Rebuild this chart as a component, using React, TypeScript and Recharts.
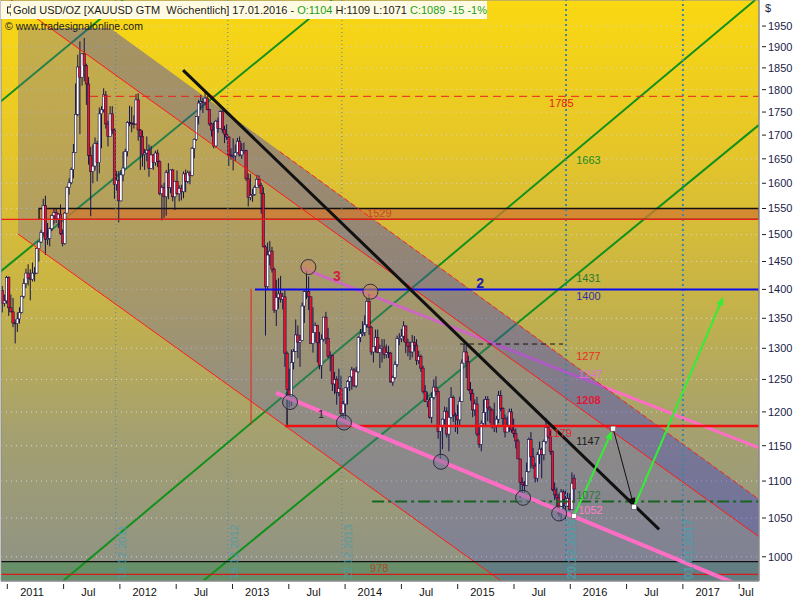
import React from "react";
import {
  ComposedChart,
  Bar,
  Area,
  XAxis,
  YAxis,
  CartesianGrid,
  ReferenceLine,
  ReferenceArea,
  ReferenceDot,
} from "recharts";

const FONT = '"Liberation Sans", Arial, sans-serif';

// weekly bars, [open, high, low, close]; first bar is the week ending 17.12.2010
const FIRST_WEEK = 2010.955;
const WEEK = 7 / 365.25;

const ohlc2010 = [
  [1398, 1406, 1360, 1376], [1376, 1391, 1370, 1380], [1380, 1424, 1375, 1421],
];
const ohlc2011 = [
  [1421, 1423, 1354, 1368], [1368, 1391, 1360, 1361], [1361, 1385, 1335, 1342], [1342, 1348, 1308, 1341],
  [1341, 1360, 1327, 1349], [1349, 1369, 1341, 1360], [1360, 1389, 1358, 1388], [1388, 1419, 1384, 1410],
  [1410, 1437, 1402, 1429], [1429, 1445, 1407, 1420], [1420, 1436, 1381, 1418], [1418, 1448, 1414, 1429],
  [1429, 1440, 1414, 1429], [1429, 1476, 1428, 1474], [1474, 1487, 1450, 1486], [1486, 1509, 1484, 1504],
  [1504, 1569, 1498, 1556], [1556, 1575, 1462, 1491], [1491, 1522, 1481, 1493], [1493, 1513, 1478, 1511],
  [1511, 1538, 1507, 1536], [1536, 1550, 1519, 1542], [1542, 1550, 1522, 1530], [1530, 1541, 1512, 1539],
  [1539, 1558, 1499, 1502], [1502, 1510, 1478, 1483], [1483, 1543, 1481, 1541], [1541, 1594, 1541, 1592],
  [1592, 1610, 1577, 1601], [1601, 1632, 1598, 1628], [1628, 1681, 1610, 1663], [1663, 1814, 1662, 1745],
  [1745, 1881, 1741, 1852], [1852, 1913, 1702, 1828], [1828, 1885, 1809, 1883], [1883, 1921, 1819, 1856],
  [1856, 1860, 1766, 1813], [1813, 1829, 1638, 1657], [1657, 1675, 1535, 1624], [1624, 1680, 1600, 1635],
  [1635, 1695, 1626, 1682], [1682, 1688, 1604, 1642], [1642, 1760, 1620, 1746], [1746, 1763, 1672, 1755],
  [1755, 1803, 1749, 1788], [1788, 1797, 1714, 1724], [1724, 1731, 1676, 1697], [1697, 1763, 1697, 1746],
  [1746, 1763, 1702, 1711], [1711, 1714, 1569, 1598], [1598, 1625, 1585, 1606], [1606, 1625, 1523, 1565],
];
const ohlc2012 = [
  [1565, 1627, 1564, 1617], [1617, 1665, 1604, 1631], [1631, 1671, 1631, 1665], [1665, 1730, 1655, 1727],
  [1727, 1764, 1719, 1726], [1726, 1762, 1706, 1725], [1725, 1743, 1714, 1724], [1724, 1790, 1722, 1777],
  [1777, 1792, 1688, 1711], [1711, 1713, 1627, 1697], [1697, 1710, 1634, 1659], [1659, 1671, 1627, 1662],
  [1662, 1697, 1645, 1668], [1668, 1680, 1613, 1630], [1630, 1677, 1629, 1658], [1658, 1660, 1627, 1642],
  [1642, 1667, 1636, 1662], [1662, 1669, 1633, 1644], [1644, 1647, 1576, 1579], [1579, 1597, 1527, 1591],
  [1591, 1601, 1532, 1573], [1573, 1627, 1536, 1622], [1622, 1641, 1568, 1591], [1591, 1628, 1580, 1627],
  [1627, 1629, 1564, 1573], [1573, 1605, 1547, 1604], [1604, 1626, 1577, 1579], [1579, 1596, 1564, 1590],
  [1590, 1597, 1566, 1583], [1583, 1624, 1570, 1619], [1619, 1628, 1582, 1604], [1604, 1626, 1600, 1621],
  [1621, 1625, 1598, 1616], [1616, 1675, 1614, 1672], [1672, 1693, 1651, 1691], [1691, 1741, 1688, 1740],
  [1740, 1777, 1723, 1770], [1770, 1788, 1754, 1773], [1773, 1781, 1748, 1772], [1772, 1796, 1766, 1781],
  [1781, 1786, 1754, 1756], [1756, 1757, 1720, 1724], [1724, 1727, 1697, 1711], [1711, 1728, 1672, 1677],
  [1677, 1733, 1673, 1730], [1730, 1738, 1705, 1714], [1714, 1754, 1713, 1751], [1751, 1754, 1705, 1712],
  [1712, 1720, 1683, 1702], [1702, 1723, 1690, 1696], [1696, 1698, 1635, 1658], [1658, 1672, 1648, 1656],
];
const ohlc2013 = [
  [1656, 1693, 1626, 1656], [1656, 1680, 1645, 1663], [1663, 1694, 1661, 1687], [1687, 1697, 1655, 1658],
  [1658, 1683, 1650, 1667], [1667, 1684, 1660, 1667], [1667, 1669, 1605, 1609], [1609, 1620, 1554, 1572],
  [1572, 1619, 1566, 1576], [1576, 1589, 1563, 1578], [1578, 1596, 1575, 1592], [1592, 1617, 1593, 1608],
  [1608, 1616, 1590, 1596], [1596, 1601, 1540, 1580], [1580, 1592, 1476, 1477], [1477, 1480, 1321, 1405],
  [1405, 1485, 1400, 1462], [1462, 1488, 1443, 1469], [1469, 1477, 1430, 1436], [1436, 1439, 1359, 1364],
  [1364, 1417, 1337, 1386], [1386, 1420, 1366, 1392], [1392, 1424, 1377, 1383], [1383, 1394, 1365, 1387],
  [1387, 1398, 1270, 1292], [1292, 1295, 1180, 1234], [1234, 1267, 1207, 1223], [1223, 1298, 1209, 1277],
  [1277, 1299, 1266, 1295], [1295, 1348, 1294, 1322], [1322, 1338, 1284, 1310], [1310, 1322, 1270, 1313],
  [1313, 1377, 1312, 1371], [1371, 1400, 1342, 1396], [1396, 1433, 1383, 1396], [1396, 1423, 1364, 1387],
  [1387, 1387, 1307, 1308], [1308, 1369, 1293, 1326], [1326, 1343, 1310, 1338], [1338, 1339, 1277, 1309],
  [1309, 1327, 1266, 1272], [1272, 1323, 1251, 1315], [1315, 1352, 1311, 1352], [1352, 1361, 1307, 1316],
  [1316, 1334, 1284, 1287], [1287, 1295, 1263, 1288], [1288, 1290, 1232, 1243], [1243, 1262, 1227, 1250],
  [1250, 1255, 1211, 1230], [1230, 1267, 1224, 1236], [1236, 1256, 1185, 1198], [1198, 1217, 1190, 1212],
];
const ohlc2014 = [
  [1212, 1238, 1182, 1237], [1237, 1249, 1211, 1247], [1247, 1255, 1232, 1254], [1254, 1270, 1234, 1265],
  [1265, 1268, 1238, 1240], [1240, 1270, 1237, 1262], [1262, 1320, 1261, 1318], [1318, 1332, 1310, 1324],
  [1324, 1345, 1320, 1326], [1326, 1355, 1320, 1339], [1339, 1385, 1334, 1379], [1379, 1392, 1322, 1335],
  [1335, 1337, 1289, 1294], [1294, 1300, 1277, 1303], [1303, 1331, 1293, 1318], [1318, 1331, 1292, 1293],
  [1293, 1306, 1268, 1300], [1300, 1315, 1277, 1302], [1302, 1315, 1283, 1290], [1290, 1306, 1284, 1293],
  [1293, 1304, 1284, 1292], [1292, 1294, 1245, 1246], [1246, 1256, 1240, 1253], [1253, 1279, 1250, 1274],
  [1274, 1321, 1270, 1316], [1316, 1325, 1305, 1316], [1316, 1332, 1310, 1320], [1320, 1345, 1311, 1337],
  [1337, 1338, 1292, 1310], [1310, 1316, 1287, 1303], [1303, 1311, 1281, 1294], [1294, 1322, 1285, 1310],
  [1310, 1320, 1295, 1305], [1305, 1315, 1273, 1280], [1280, 1296, 1275, 1287], [1287, 1290, 1262, 1268],
  [1268, 1272, 1228, 1231], [1231, 1241, 1215, 1216], [1216, 1231, 1207, 1218], [1218, 1222, 1190, 1192],
  [1192, 1230, 1183, 1222], [1222, 1250, 1219, 1238], [1238, 1255, 1225, 1231], [1231, 1234, 1160, 1171],
  [1171, 1178, 1131, 1178], [1178, 1190, 1145, 1189], [1189, 1208, 1181, 1201], [1201, 1207, 1162, 1167],
  [1167, 1221, 1142, 1192], [1192, 1238, 1190, 1222], [1222, 1225, 1185, 1195], [1195, 1199, 1170, 1195],
];
const ohlc2015 = [
  [1195, 1211, 1167, 1188], [1188, 1223, 1179, 1216], [1216, 1282, 1215, 1276], [1276, 1307, 1276, 1294],
  [1294, 1305, 1252, 1278], [1278, 1288, 1232, 1234], [1234, 1246, 1217, 1228], [1228, 1235, 1192, 1203],
  [1203, 1219, 1194, 1212], [1212, 1223, 1164, 1167], [1167, 1177, 1147, 1152], [1152, 1187, 1142, 1183],
  [1183, 1219, 1181, 1199], [1199, 1224, 1178, 1219], [1219, 1224, 1186, 1206], [1206, 1209, 1183, 1203],
  [1203, 1205, 1175, 1178], [1178, 1214, 1170, 1178], [1178, 1194, 1169, 1189], [1189, 1232, 1183, 1225],
  [1225, 1233, 1201, 1205], [1205, 1207, 1180, 1190], [1190, 1196, 1162, 1170], [1170, 1193, 1170, 1180],
  [1180, 1205, 1170, 1200], [1200, 1205, 1169, 1173], [1173, 1190, 1162, 1168], [1168, 1175, 1146, 1157],
  [1157, 1160, 1131, 1131], [1131, 1131, 1077, 1098], [1098, 1105, 1080, 1095], [1095, 1100, 1084, 1094],
  [1094, 1126, 1093, 1113], [1113, 1162, 1112, 1159], [1159, 1170, 1118, 1134], [1134, 1147, 1117, 1121],
  [1121, 1125, 1098, 1104], [1104, 1141, 1099, 1137], [1137, 1156, 1124, 1145], [1145, 1147, 1104, 1137],
  [1137, 1159, 1129, 1156], [1156, 1191, 1153, 1177], [1177, 1179, 1160, 1163], [1163, 1173, 1137, 1142],
  [1142, 1143, 1086, 1088], [1088, 1098, 1074, 1081], [1081, 1091, 1062, 1077], [1077, 1083, 1052, 1056],
  [1056, 1089, 1046, 1085], [1085, 1088, 1062, 1075], [1075, 1088, 1047, 1066], [1066, 1084, 1065, 1076],
];
const ohlc2016 = [
  [1076, 1083, 1060, 1061], [1061, 1112, 1061, 1097], [1104, 1109, 1071, 1089],
];

const candles = [...ohlc2010, ...ohlc2011, ...ohlc2012, ...ohlc2013, ...ohlc2014, ...ohlc2015, ...ohlc2016].map(
  ([open, high, low, close], i) => ({ t: FIRST_WEEK + i * WEEK, open, high, low, close, range: [low, high] })
);

const X_DOMAIN = [2010.944, 2017.676];
const Y_DOMAIN = [970, 2015];
const Y_TICKS = [1000, 1050, 1100, 1150, 1200, 1250, 1300, 1350, 1400, 1450, 1500, 1550, 1600, 1650, 1700, 1750, 1800, 1850, 1900, 1950];
const X_BOUNDS = [2011, 2011.5, 2012, 2012.5, 2013, 2013.5, 2014, 2014.5, 2015, 2015.5, 2016, 2016.5, 2017, 2017.5];
const X_LABEL_POS = [2011.22, 2011.72, 2012.22, 2012.72, 2013.22, 2013.72, 2014.22, 2014.72, 2015.22, 2015.72, 2016.22, 2016.72, 2017.22, 2017.566];
const X_LABELS = ["2011", "Jul", "2012", "Jul", "2013", "Jul", "2014", "Jul", "2015", "Jul", "2016", "Jul", "2017", "Jul"];

// drawn lines, in (year, price)
const TREND_BLACK = [{ x: 2012.561, y: 1845 }, { x: 2016.789, y: 1035 }];
const CHANNEL_TOP = [{ x: 2013.42, y: 1665 }, { x: 2017.676, y: 1075 }];
const CHANNEL_MID = [{ x: 2011.033, y: 2015 }, { x: 2017.676, y: 1025.5 }];
const CHANNEL_LOW = [{ x: 2011.095, y: 1501 }, { x: 2015.386, y: 970 }];
const PINK_HIGH = [{ x: 2013.618, y: 1438 }, { x: 2017.676, y: 1147 }];
const PINK_LOW = [{ x: 2013.387, y: 1229 }, { x: 2017.447, y: 968 }];
const GREEN_LINES = [
  [{ x: 2010.935, y: 1772 }, { x: 2012.028, y: 2015 }],
  [{ x: 2010.935, y: 1431 }, { x: 2013.884, y: 2015 }],
  [{ x: 2011.495, y: 970 }, { x: 2017.642, y: 2015 }],
  [{ x: 2012.738, y: 970 }, { x: 2017.676, y: 1722 }],
];
// whole channel (top edge down to the lower red line)
const CHANNEL_FILL = [
  { t: 2011.095, band: [1501, 1945] },
  { t: 2011.912, band: [1382, 1945] },
  { t: 2015.386, band: [970, 1361] },
  { t: 2017.676, band: [970, 1075] },
];
// upper band (top edge down to the middle red line)
const UPPER_FILL = [
  { t: 2011.38, band: [1945, 1945] },
  { t: 2011.912, band: [1842, 1945] },
  { t: 2017.676, band: [1025.5, 1075] },
];
const H_LINES = [
  { y: 1785, from: 2011.735, to: 2017.676, color: "#e82020", width: 1, dash: "8 5" },
  { y: 1307, from: 2015.021, to: 2015.936, color: "#111111", width: 1, dash: "5 4" },
  { y: 1400, from: 2013.2, to: 2017.676, color: "#0a0af0", width: 2, dash: undefined },
  { y: 1179, from: 2013.467, to: 2017.676, color: "#f01010", width: 2.5, dash: undefined },
  { y: 1072, from: 2014.24, to: 2017.676, color: "#17651f", width: 2, dash: "12 4 3 4" },
  { y: 1529, from: 2010.944, to: 2017.676, color: "#f01a1a", width: 1.3, dash: undefined },
  { y: 994, from: 2010.944, to: 2017.676, color: "#111111", width: 1.3, dash: undefined },
  { y: 978, from: 2010.944, to: 2017.676, color: "#d81a1a", width: 1.3, dash: undefined },
];
const V_MARKS = [
  { x: 2013.165, y1: 1401, y2: 1181, color: "#e82020" },
  { x: 2013.485, y1: 1229, y2: 1181, color: "#222222" },
];
const CYCLE_DATES = [
  { x: 2011.963, label: "18.12.2011", strong: false },
  { x: 2012.958, label: "16.12.2012", strong: false },
  { x: 2013.971, label: "22.12.2013", strong: false },
  { x: 2015.962, label: "20.12.2015", strong: true },
  { x: 2017.0, label: "01.01.2017", strong: true },
];
const ARROWS = [
  { from: { x: 2016.034, y: 1053 }, to: { x: 2016.372, y: 1172 }, color: "#33ee33", width: 2 },
  { from: { x: 2016.381, y: 1175 }, to: { x: 2016.567, y: 1065 }, color: "#111111", width: 1 },
  { from: { x: 2016.567, y: 1065 }, to: { x: 2017.358, y: 1387 }, color: "#33ee33", width: 2 },
];
const PIVOTS = [{ x: 2016.034, y: 1053 }, { x: 2016.381, y: 1175 }, { x: 2016.567, y: 1065 }];
const CIRCLES = [
  { x: 2013.674, y: 1440, warm: true },
  { x: 2014.225, y: 1396, warm: true },
  { x: 2013.511, y: 1215, warm: false },
  { x: 2013.99, y: 1184, warm: false },
  { x: 2014.852, y: 1127, warm: false },
  { x: 2015.581, y: 1077, warm: false },
  { x: 2015.901, y: 1056, warm: false },
];
const LEVEL_LABELS = [
  { x: 2015.812, y: 1770, text: "1785", color: "#e82020", size: 11, bold: false },
  { x: 2016.052, y: 1648, text: "1663", color: "#208a20", size: 11, bold: false },
  { x: 2014.195, y: 1541, text: "1529", color: "#c04a2a", size: 11, bold: false },
  { x: 2016.052, y: 1420, text: "1431", color: "#2a7a2a", size: 11, bold: false },
  { x: 2016.052, y: 1389, text: "1400", color: "#3030a8", size: 11, bold: false },
  { x: 2016.052, y: 1288, text: "1277", color: "#e83020", size: 11, bold: false },
  { x: 2016.07, y: 1259, text: "1247", color: "#e070d8", size: 11, bold: false },
  { x: 2016.052, y: 1218, text: "1208", color: "#e01838", size: 11, bold: true },
  { x: 2015.803, y: 1169, text: "1179", color: "#e82020", size: 11, bold: false },
  { x: 2016.052, y: 1156, text: "1147", color: "#1a1a1a", size: 11, bold: false },
  { x: 2016.052, y: 1081, text: "1072", color: "#2a7a3a", size: 11, bold: false },
  { x: 2016.07, y: 1060, text: "1052", color: "#ff80c8", size: 11, bold: false },
  { x: 2014.222, y: 986, text: "978", color: "#a84a2a", size: 11, bold: false },
  { x: 2013.892, y: 1423, text: "3", color: "#d02040", size: 14, bold: true },
  { x: 2015.164, y: 1412, text: "2", color: "#2020b0", size: 14, bold: true },
  { x: 2013.76, y: 1196, text: "1", color: "#222222", size: 11, bold: false },
];

function Candle(props: any) {
  const { x, y, width, height, payload } = props;
  if (!payload || height == null) return null;
  const { open, high, low, close } = payload;
  const cx = x + width / 2;
  const span = Math.log(high) - Math.log(low) || 1;
  const at = (v: number) => y + (height * (Math.log(high) - Math.log(v))) / span;
  const yo = at(open);
  const yc = at(close);
  const up = close >= open;
  const top = Math.min(yo, yc);
  const bh = Math.max(Math.abs(yc - yo), 0.8);
  return (
    <g>
      <line x1={cx} x2={cx} y1={y} y2={y + height} stroke="#16124a" strokeWidth={1} />
      <rect x={cx - 1.2} y={top} width={2.4} height={bh} fill={up ? "#ffffff" : "#ee1428"} stroke="#16124a" strokeWidth={0.6} />
    </g>
  );
}

function XTick(props: any) {
  const { x, y, payload } = props;
  const v = payload.value;
  if (X_BOUNDS.some((b) => Math.abs(b - v) < 1e-6)) {
    return <line x1={x} x2={x} y1={y + 3} y2={y + 8} stroke="#222" />;
  }
  const i = X_LABEL_POS.findIndex((p) => Math.abs(p - v) < 1e-6);
  return (
    <text x={x} y={y + 11} dy="0.35em" textAnchor="middle" fontSize={11} fill="#111" fontFamily={FONT}>
      {X_LABELS[i]}
    </text>
  );
}

function YTick(props: any) {
  const { x, y, payload } = props;
  return (
    <g>
      <line x1={x + 3} x2={x + 7} y1={y} y2={y} stroke="#222" />
      <text x={x + 9} y={y} dy="0.35em" fontSize={11} fill="#1c1c48" fontFamily={FONT}>
        {payload.value}
      </text>
    </g>
  );
}

const arrowShape = (color: string, w: number) => (p: any) => {
  const x1 = Number(p.x1), y1 = Number(p.y1), x2 = Number(p.x2), y2 = Number(p.y2);
  const a = Math.atan2(y2 - y1, x2 - x1);
  const bx = x2 - 9 * Math.cos(a);
  const by = y2 - 9 * Math.sin(a);
  const s = 3.5;
  const pts = `${x2},${y2} ${bx + s * Math.sin(a)},${by - s * Math.cos(a)} ${bx - s * Math.sin(a)},${by + s * Math.cos(a)}`;
  return (
    <g>
      <line x1={x1} y1={y1} x2={bx} y2={by} stroke={color} strokeWidth={w} />
      <polygon points={pts} fill={color} />
    </g>
  );
};

export default function App() {
  const allX = [...X_BOUNDS, ...X_LABEL_POS].sort((a, b) => a - b);
  return (
    <div style={{ position: "absolute", left: 0, top: 0, width: 800, height: 600, background: "#ffffff", fontFamily: FONT }}>
      <svg width={0} height={0} style={{ position: "absolute" }}>
        <defs>
          <linearGradient id="bgGrad" x1="0" y1="0" x2="0" y2="1">
            <stop offset="0%" stopColor="#fad812" />
            <stop offset="25%" stopColor="#e6c628" />
            <stop offset="50%" stopColor="#c8b446" />
            <stop offset="75%" stopColor="#a4a070" />
            <stop offset="100%" stopColor="#8e9286" />
          </linearGradient>
        </defs>
      </svg>
      <ComposedChart width={800} height={600} data={candles} margin={{ top: 0, right: 0, bottom: 0, left: 1 }}>
        <CartesianGrid vertical={false} fill="url(#bgGrad)" fillOpacity={1} stroke="#d6d6dc" strokeDasharray="1 4" />
        <XAxis
          dataKey="t"
          type="number"
          domain={X_DOMAIN}
          allowDataOverflow
          ticks={allX}
          interval={0}
          tick={<XTick />}
          tickLine={false}
          tickSize={0}
          tickMargin={0}
          height={19}
          axisLine={{ stroke: "#8a8a8a" }}
        />
        <YAxis
          orientation="right"
          type="number"
          scale="log"
          domain={Y_DOMAIN}
          allowDataOverflow
          ticks={Y_TICKS}
          interval={0}
          tick={<YTick />}
          tickLine={false}
          tickSize={0}
          tickMargin={0}
          width={41}
          axisLine={{ stroke: "#8a8a8a" }}
        />

        <ReferenceArea x1={X_DOMAIN[0]} x2={X_DOMAIN[1]} y1={970} y2={994} fill="#2e8a40" fillOpacity={0.4} stroke="none" ifOverflow="hidden" zIndex={100} />

        {GREEN_LINES.map((seg, i) => (
          <ReferenceLine key={"g" + i} segment={seg} stroke="#12901c" strokeWidth={2} ifOverflow="hidden" zIndex={110} />
        ))}
        <ReferenceLine segment={PINK_HIGH} stroke="#ff6ec4" strokeWidth={3} ifOverflow="hidden" zIndex={110} />

        <Area
          data={CHANNEL_FILL}
          dataKey="band"
          type="linear"
          stroke="none"
          fill="#5a5abe"
          fillOpacity={0.3}
          dot={false}
          activeDot={false}
          isAnimationActive={false}
          zIndex={120}
        />
        <Area
          data={UPPER_FILL}
          dataKey="band"
          type="linear"
          stroke="none"
          fill="#2d2dc8"
          fillOpacity={0.2}
          dot={false}
          activeDot={false}
          isAnimationActive={false}
          zIndex={121}
        />
        <ReferenceArea x1={2011.282} x2={X_DOMAIN[1]} y1={1529} y2={1550} fill="#d27a30" fillOpacity={0.75} stroke="#111" strokeWidth={1.3} ifOverflow="hidden" zIndex={125} />

        <Bar dataKey="range" barSize={2} shape={Candle} isAnimationActive={false} zIndex={130} />

        {CYCLE_DATES.map((d) => (
          <ReferenceLine
            key={d.label}
            x={d.x}
            stroke={d.strong ? "#3f86a6" : "#4a86b0"}
            strokeWidth={d.strong ? 2 : 1}
            strokeDasharray={d.strong ? "2 3" : "1 3"}
            ifOverflow="hidden"
            zIndex={135}
          />
        ))}
        <ReferenceLine segment={CHANNEL_TOP} stroke="#ff2020" strokeWidth={1} strokeDasharray="5 3" ifOverflow="hidden" zIndex={140} />
        <ReferenceLine segment={CHANNEL_MID} stroke="#ff1a1a" strokeWidth={1} ifOverflow="hidden" zIndex={140} />
        <ReferenceLine segment={CHANNEL_LOW} stroke="#ff1a1a" strokeWidth={1} ifOverflow="hidden" zIndex={140} />
        {H_LINES.map((h) => (
          <ReferenceLine
            key={"h" + h.y}
            segment={[{ x: h.from, y: h.y }, { x: h.to, y: h.y }]}
            stroke={h.color}
            strokeWidth={h.width}
            strokeDasharray={h.dash}
            ifOverflow="hidden"
            zIndex={140}
          />
        ))}
        {V_MARKS.map((v, i) => (
          <ReferenceLine key={"v" + i} segment={[{ x: v.x, y: v.y1 }, { x: v.x, y: v.y2 }]} stroke={v.color} strokeWidth={1} ifOverflow="hidden" zIndex={140} />
        ))}
        <ReferenceLine segment={PINK_LOW} stroke="#ff6ec4" strokeWidth={4} ifOverflow="hidden" zIndex={141} />
        <ReferenceLine segment={TREND_BLACK} stroke="#111111" strokeWidth={3} ifOverflow="hidden" zIndex={142} />

        {CIRCLES.map((c, i) => (
          <ReferenceDot
            key={"c" + i}
            x={c.x}
            y={c.y}
            r={7.5}
            fill={c.warm ? "#c88a5a" : "#7a7898"}
            fillOpacity={c.warm ? 0.6 : 0.5}
            stroke="#2c2c3c"
            strokeWidth={1}
            zIndex={150}
          />
        ))}
        {ARROWS.map((a, i) => (
          <ReferenceLine key={"a" + i} segment={[a.from, a.to]} stroke={a.color} shape={arrowShape(a.color, a.width)} ifOverflow="visible" zIndex={150} />
        ))}
        {PIVOTS.map((p, i) => (
          <ReferenceDot
            key={"p" + i}
            x={p.x}
            y={p.y}
            r={3}
            zIndex={151}
            shape={(s: any) => <rect x={s.cx - 2.5} y={s.cy - 2.5} width={5} height={5} fill="#ffffff" stroke="#444" strokeWidth={0.5} />}
          />
        ))}

        {LEVEL_LABELS.map((l, i) => (
          <ReferenceDot
            key={"l" + i}
            x={l.x}
            y={l.y}
            r={1}
            zIndex={160}
            shape={(s: any) => (
              <text x={s.cx} y={s.cy} dy="0.35em" fill={l.color} fontSize={l.size} fontWeight={l.bold ? "bold" : "normal"} fontFamily={FONT}>
                {l.text}
              </text>
            )}
          />
        ))}
        {CYCLE_DATES.map((d) => (
          <ReferenceDot
            key={"d" + d.label}
            x={d.x}
            y={972}
            r={1}
            zIndex={160}
            shape={(s: any) => (
              <text
                transform={`translate(${s.cx + 10},${s.cy}) rotate(-90)`}
                fill="#4f9ca6"
                fillOpacity={0.9}
                fontSize={d.strong ? 12 : 11}
                fontWeight={d.strong ? "bold" : "normal"}
                fontFamily={FONT}
              >
                {d.label}
              </text>
            )}
          />
        ))}

        <ReferenceArea x1={X_DOMAIN[0]} x2={X_DOMAIN[1]} y1={Y_DOMAIN[0]} y2={Y_DOMAIN[1]} fill="none" stroke="#8a8a8a" strokeWidth={1} zIndex={170} />
      </ComposedChart>

      <div
        style={{
          position: "absolute",
          left: 1,
          top: 1,
          height: 18,
          width: 486,
          background: "#fffbe2",
          display: "flex",
          alignItems: "center",
          whiteSpace: "pre",
          fontSize: 11,
          color: "#1a1a1a",
        }}
      >
        <svg width={14} height={14} style={{ marginLeft: 3, marginRight: 2 }}>
          <line x1={7} x2={7} y1={1} y2={13} stroke="#222" strokeWidth={1} />
          <rect x={3.5} y={4} width={7} height={6} fill="#fffbe2" stroke="#222" strokeWidth={1} />
        </svg>
        <span>Gold USD/OZ [XAUUSD GTM  Wöchentlich] 17.01.2016 - </span>
        <span style={{ color: "#19a019" }}>O:1104</span>
        <span> H:1109 L:1071 </span>
        <span style={{ color: "#19a019" }}>C:1089 -15 -1%</span>
      </div>
      <div style={{ position: "absolute", left: 5, top: 20, fontSize: 10.5, color: "#1a1a1a", whiteSpace: "pre" }}>
        © www.tradesignalonline.com
      </div>
      <div style={{ position: "absolute", left: 765, top: 2, fontSize: 11, color: "#1c1c48" }}>$</div>
    </div>
  );
}
